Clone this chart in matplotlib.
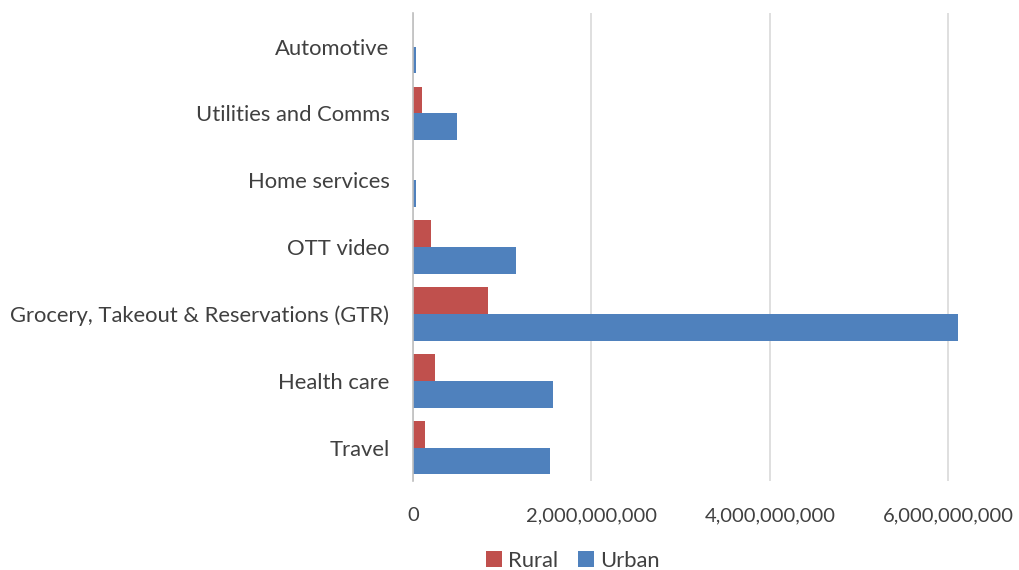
import matplotlib
matplotlib.use("Agg")
from matplotlib import pyplot as plt
from matplotlib.ticker import FuncFormatter
import numpy as np

categories = ["Travel", "Health care", "Grocery, Takeout & Reservations (GTR)",
              "OTT video", "Home services", "Utilities and Comms", "Automotive"]
rural = [134e6, 243e6, 844e6, 205e6, 0, 100e6, 0]
urban = [1.54e9, 1.565e9, 6.11e9, 1.15e9, 35e6, 496e6, 30e6]
x_ticks = [0, 2e9, 4e9, 6e9]

plt.rcParams["font.family"] = ["Lato", "DejaVu Sans"]

fig = plt.figure(figsize=(10.19, 5.70), dpi=100)
ax = fig.add_axes([0.4053, 0.156, 0.5947, 0.821])

y = np.arange(len(categories))
h = 0.4
ax.barh(y + h / 2, rural, height=h, color="#C0504D", label="Rural")
ax.barh(y - h / 2, urban, height=h, color="#4F81BD", label="Urban")

ax.set_ylim(-0.5, len(categories) - 0.5)
ax.set_xlim(0, 6.79e9)
ax.set_yticks(y)
ax.set_yticklabels(categories, fontsize=15.8, color="#404040")
ax.set_xticks(x_ticks)
ax.xaxis.set_major_formatter(FuncFormatter(lambda v, p: f"{v:,.0f}"))
ax.tick_params(axis="x", labelsize=14.5, labelcolor="#404040", length=0, pad=19)
ax.tick_params(axis="y", length=0, pad=17)
ax.grid(axis="x", color="#D9D9D9", linewidth=1.2)
ax.set_axisbelow(True)
for s in ["top", "right", "bottom"]:
    ax.spines[s].set_visible(False)
ax.spines["left"].set_color("#BFBFBF")
ax.spines["left"].set_linewidth(1.2)

fig.legend(loc="lower center", bbox_to_anchor=(0.562, -0.028), ncol=2, frameon=False,
           fontsize=15.8, handlelength=0.75, handleheight=0.75, handletextpad=0.25,
           columnspacing=0.9, labelcolor="#404040", borderaxespad=0.3)

fig.savefig("out.png", dpi=100)
